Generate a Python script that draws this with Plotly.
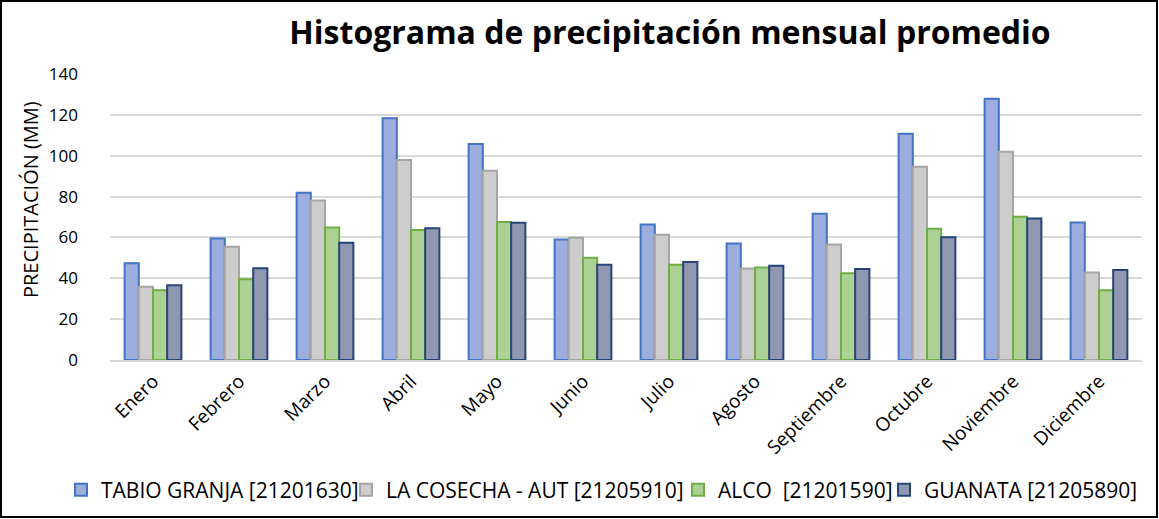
import plotly.graph_objects as go

meses = ["Enero", "Febrero", "Marzo", "Abril", "Mayo", "Junio", "Julio",
         "Agosto", "Septiembre", "Octubre", "Noviembre", "Diciembre"]

tabio_granja = [47.4, 59.5, 81.9, 118.3, 105.7, 59.0, 66.3, 57.0, 71.6, 110.8, 127.9, 67.3]
la_cosecha = [35.9, 55.4, 78.1, 97.9, 92.6, 59.8, 61.3, 44.8, 56.5, 94.6, 102.0, 42.8]
alco = [34.1, 39.5, 64.9, 63.6, 67.6, 50.0, 46.6, 45.3, 42.5, 64.2, 70.1, 34.2]
guanata = [36.6, 44.9, 57.4, 64.5, 67.2, 46.6, 48.0, 46.1, 44.6, 60.1, 69.3, 44.0]

# name, values, fill, outline, legend text start (px)
series = [
    ("TABIO GRANJA [21201630]", tabio_granja, "#9BAEDE", "#4472C4", 103),
    ("LA COSECHA - AUT [21205910]", la_cosecha, "#CDCDCD", "#A5A5A5", 388),
    ("ALCO\u00a0 [21201590]", alco, "#ABD194", "#70AD47", 720),
    ("GUANATA [21205890]", guanata, "#9098B1", "#264478", 926),
]

W, H = 1159, 519
ml, mr, mt, mb = 110, 17, 74, 159
pw, ph = W - ml - mr, H - mt - mb


def px_x(p):
    return (p - ml) / pw


def px_y(p):
    return (H - mb - p) / ph


fig = go.Figure()
legend_layouts = {}
for i, (nombre, valores, relleno, borde, text_x) in enumerate(series):
    key = "legend" if i == 0 else f"legend{i + 1}"
    fig.add_trace(go.Bar(
        x=meses, y=valores, name=nombre, legend=key, showlegend=True,
        marker=dict(color=relleno, line=dict(color=borde, width=2)),
    ))
    legend_layouts[key] = dict(
        orientation="h", xref="container", x=(text_x - 42) / W, xanchor="left",
        yref="container", y=1 - 490 / H, yanchor="middle",
        font=dict(size=21), itemwidth=30, bgcolor="rgba(0,0,0,0)",
    )

fig.update_layout(
    width=W, height=H, showlegend=True,
    margin=dict(l=ml, r=mr, t=mt, b=mb, autoexpand=False),
    paper_bgcolor="white", plot_bgcolor="white",
    font=dict(family="Open Sans, Liberation Sans, sans-serif", color="#000000"),
    barmode="group", bargap=0.34, bargroupgap=0,
    title=dict(text="<b>Histograma de precipitación mensual promedio</b>",
               x=670 / W, xanchor="center", y=1 - 33 / H, yanchor="middle",
               font=dict(size=32, color="#000000")),
    yaxis=dict(range=[0, 140], dtick=20, showgrid=True, gridcolor="#D9D9D9",
               gridwidth=1.5, zeroline=False, showline=False,
               tickfont=dict(size=17), ticks="", ticklabelstandoff=31),
    xaxis=dict(showline=True, linecolor="#D9D9D9", linewidth=1.5,
               tickangle=-45, tickfont=dict(size=19), ticks="",
               ticklabelstandoff=1),
    annotations=[dict(text="PRECIPITACIÓN (MM)", textangle=-90,
                      xref="paper", yref="paper", x=px_x(30), y=px_y(200),
                      xanchor="center", yanchor="middle", showarrow=False,
                      font=dict(size=20, color="#000000"))],
    shapes=[dict(type="rect", xref="paper", yref="paper",
                 x0=px_x(1), x1=px_x(W - 2),
                 y0=px_y(H - 2), y1=px_y(1),
                 line=dict(color="#000000", width=2))],
    **legend_layouts,
)

fig.write_html("out.html")
